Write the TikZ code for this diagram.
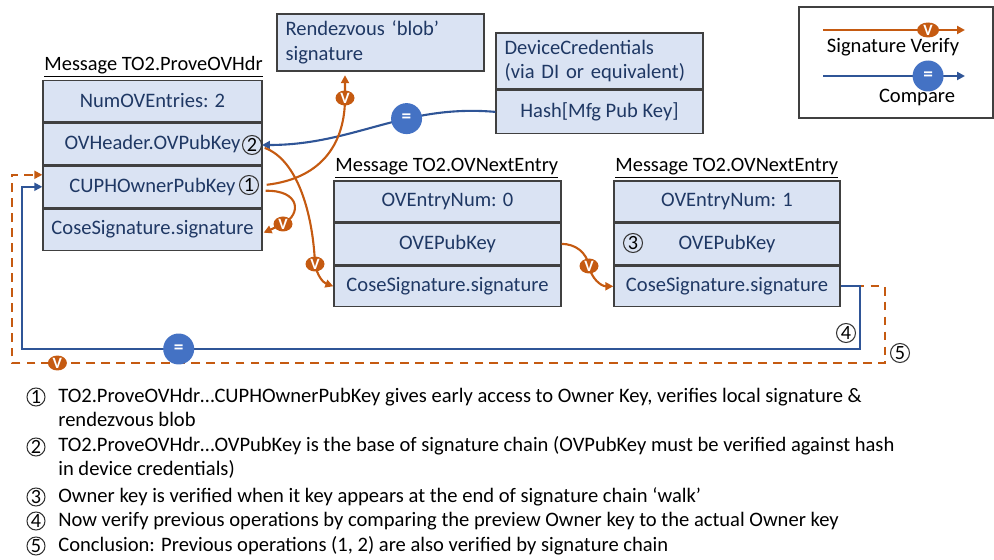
\documentclass[tikz,border=0pt]{standalone}
\usepackage{fontspec}
\setmainfont{Carlito}
\usepackage{tikz}
\usetikzlibrary{arrows.meta, positioning, shapes.geometric, calc}
\usepackage{xcolor}
\definecolor{fieldfill}{HTML}{DAE3F3}
\definecolor{fieldtext}{HTML}{1F3864}
\definecolor{verifyorange}{HTML}{C55A11}
\definecolor{compareblue}{HTML}{2F5597}
\definecolor{markblue}{HTML}{4472C4}
\tikzset{%
	field/.style={
		rectangle,
		draw=black!75,
		fill=fieldfill,
		line width=0.8pt,
		text=fieldtext,
		minimum height=0.83cm,
		font=\fontsize{11.7}{14}\selectfont
	},
	msgtitle/.style={
		anchor=south west,
		inner sep=1pt,
		font=\fontsize{11.6}{13}\selectfont
	},
	numcirc/.style={
		circle,
		draw=black!80,
		line width=0.6pt,
		inner sep=0pt,
		minimum size=0.38cm,
		font=\fontsize{11.5}{12}\selectfont
	},
	vmark/.style={
		ellipse,
		fill=verifyorange,
		text=white,
		inner sep=0pt,
		minimum width=0.38cm,
		minimum height=0.3cm,
		font=\fontsize{9}{9}\selectfont\bfseries
	},
	eqmark/.style={
		circle,
		fill=markblue,
		text=white,
		inner sep=0pt,
		minimum size=0.62cm,
		font=\fontsize{11}{11}\selectfont\bfseries
	},
	verify/.style={draw=verifyorange, line width=1.2pt, -{Triangle[length=4.5pt,width=4.5pt]}},
	compare/.style={draw=compareblue, line width=1.2pt, -{Triangle[length=4.5pt,width=4.5pt]}},
	note/.style={anchor=base west, inner sep=0pt, align=left, font=\fontsize{11.7}{14}\selectfont},
}

\begin{document}
\begin{tikzpicture}[x=0.02cm, y=-0.02cm]
	\useasboundingbox (0,0) rectangle (994,560);

	% Message TO2.ProveOVHdr
	\node[field, minimum width=4.38cm] (hdrnum) at (152.5,101) {NumOVEntries: 2};
	\node[field, minimum width=4.38cm, below=0pt of hdrnum] (hdrkey) {OVHeader.OVPubKey};
	\node[field, minimum width=4.38cm, below=0pt of hdrkey] (hdrcup) {CUPHOwnerPubKey};
	\node[field, minimum width=4.38cm, below=0pt of hdrcup] (hdrsig) {CoseSignature.signature};
	\node[msgtitle] (hdrtitle) at (hdrnum.north west) {\underline{Message TO2.ProveOVHdr}};

	% rendezvous blob and device credentials
	\node[field, minimum width=4.14cm, minimum height=1.14cm, text width=3.8cm, align=left] (rdv) at (380.5,42.5) {Rendezvous ‘blob’\\signature};
	\node[field, minimum width=4.14cm, minimum height=1.12cm, text width=3.8cm, align=left] (devcred) at (599.5,61) {DeviceCredentials\\(via DI or equivalent)};
	\node[field, minimum width=4.14cm, minimum height=0.86cm, below=0pt of devcred] (hash) {Hash[Mfg Pub Key]};

	% Message TO2.OVNextEntry 0
	\node[field, minimum width=4.54cm, minimum height=0.82cm] (e0num) at (447.5,201.5) {OVEntryNum: 0};
	\node[field, minimum width=4.54cm, minimum height=0.82cm, below=0pt of e0num] (e0pub) {OVEPubKey};
	\node[field, minimum width=4.54cm, minimum height=0.82cm, below=0pt of e0pub] (e0sig) {CoseSignature.signature};
	\node[msgtitle] (e0title) at (e0num.north west) {\underline{Message TO2.OVNextEntry}};

	% Message TO2.OVNextEntry 1
	\node[field, minimum width=4.52cm, minimum height=0.82cm] (e1num) at (727,201.5) {OVEntryNum: 1};
	\node[field, minimum width=4.52cm, minimum height=0.82cm, below=0pt of e1num] (e1pub) {OVEPubKey};
	\node[field, minimum width=4.52cm, minimum height=0.82cm, below=0pt of e1pub] (e1sig) {CoseSignature.signature};
	\node[msgtitle] (e1title) at (e1num.north west) {\underline{Message TO2.OVNextEntry}};

	% step numbers
	\node[numcirc] (c1) at (249,185) {1};
	\node[numcirc] (c2) at (252,145) {2};
	\node[numcirc] (c3) at (633,243) {3};
	\node[numcirc] (c4) at (846,333) {4};
	\node[numcirc] (c5) at (900,353) {5};

	% loop back to the owner key
	\coordinate (dashR) at (885,363);
	\coordinate (dashL) at (12,363);
	\draw[verify, dash pattern=on 5pt off 3.5pt] (e1sig.east) -| (dashR) -- node[vmark, pos=0.948, solid] (vloop) {V} (dashL) |- ($(hdrcup.west)+(0,-12)$);
	\coordinate (loopR) at (860,349);
	\coordinate (loopL) at (22,349);
	\draw[compare] (e1sig.east) -| (loopR) -- node[eqmark, pos=0.813] (eqloop) {=} (loopL) |- (hdrcup.west);

	% compare against device credentials
	\draw[compare] (hash.west) to[out=175, in=0] node[eqmark, pos=0.37] (eqhash) {=} (c2.east);

	% signature verify
	\coordinate (vrdv) at (345,98);
	\draw[verify, shorten >=2pt] ($(hdrcup.east)+(4,-2)$) .. controls (325,178) and (345,140) .. (vrdv) -- (vrdv |- rdv.south);
	\node[vmark] (vrdvm) at (vrdv) {V};
	\coordinate (vsig) at (283,224);
	\draw[verify] ($(hdrcup.east)+(3,4)$) .. controls (300,190) and (302,214) .. (vsig) -- ($(hdrsig.east)+(1,3)$);
	\node[vmark] (vsigm) at (vsig) {V};
	\coordinate (vmid) at (315,264);
	\draw[verify] ($(hdrkey.east)+(2,4)$) .. controls (298,160) and (313,215) .. (vmid) to[out=-80, in=160] (e0sig.west);
	\node[vmark] (vmidm) at (vmid) {V};
	\coordinate (vnext) at (589,266);
	\draw[verify] (e0pub.east) to[out=0, in=100] (vnext) to[out=-80, in=180] (e1sig.west);
	\node[vmark] (vnextm) at (vnext) {V};

	% legend
	\node[draw=black!75, line width=0.8pt, minimum width=3.88cm, minimum height=2.22cm] (legend) at (896,62.5) {};
	\coordinate (lgvA) at (823,30);
	\coordinate (lgvB) at (965,30);
	\draw[verify] (lgvA) -- node[vmark, minimum width=0.44cm, pos=0.74] (lgv) {V} (lgvB);
	\node[font=\fontsize{11.7}{12}\selectfont] (lgvtext) at (893,47) {Signature Verify};
	\coordinate (lgcA) at (823,76);
	\coordinate (lgcB) at (965,76);
	\draw[compare] (lgcA) -- node[eqmark, pos=0.74] (lgc) {=} (lgcB);
	\node[font=\fontsize{11.7}{12}\selectfont] (lgctext) at (917,97) {Compare};

	% notes
	\node[numcirc, minimum size=0.36cm] (li1) at (36,397) {1};
	\node[note] (lt1) at (58,427) {TO2.ProveOVHdr…CUPHOwnerPubKey gives early access to Owner Key, verifies local signature \&\\rendezvous blob};
	\node[numcirc, minimum size=0.36cm] (li2) at (36,447) {2};
	\node[note] (lt2) at (58,476) {TO2.ProveOVHdr…OVPubKey is the base of signature chain (OVPubKey must be verified against hash\\in device credentials)};
	\node[numcirc, minimum size=0.36cm] (li3) at (36,497) {3};
	\node[note] (lt3) at (58,502) {Owner key is verified when it key appears at the end of signature chain ‘walk’};
	\node[numcirc, minimum size=0.36cm] (li4) at (36,521) {4};
	\node[note] (lt4) at (58,526) {Now verify previous operations by comparing the preview Owner key to the actual Owner key};
	\node[numcirc, minimum size=0.36cm] (li5) at (36,546) {5};
	\node[note] (lt5) at (58,551) {Conclusion: Previous operations (1, 2) are also verified by signature chain};
\end{tikzpicture}
\end{document}
